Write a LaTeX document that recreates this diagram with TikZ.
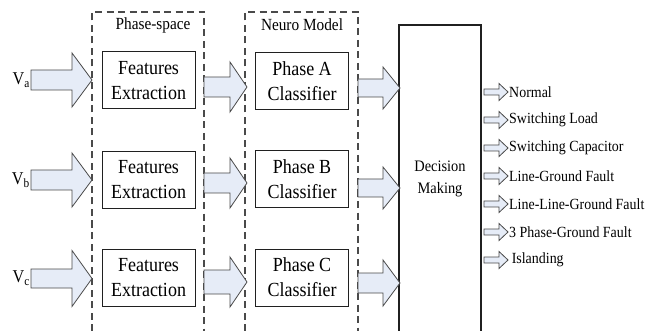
\documentclass[tikz,border=0pt]{standalone}
\usepackage{fontspec}
\setmainfont{Liberation Serif}[FakeStretch=0.9]
\usetikzlibrary{positioning}
\definecolor{arrfill}{HTML}{E6ECF7}
\definecolor{arrline}{HTML}{4A4A4A}
\definecolor{boxline}{HTML}{202020}
\newcommand{\blkarrow}[6]{% tail x, head base x, tip x, centre y, shaft half, head half
  \draw[blockarr] (#1,#4-#5) -- (#2,#4-#5) -- (#2,#4-#6) -- (#3,#4) -- (#2,#4+#6) -- (#2,#4+#5) -- (#1,#4+#5) -- cycle;}
\begin{document}
\begin{tikzpicture}[x=1pt,y=-1pt,
  procbox/.style={draw=boxline,line width=1pt,minimum width=93pt,minimum height=57pt,inner sep=0pt,
    align=center,font=\fontsize{20}{25}\selectfont},
  dashbox/.style={draw=arrline,line width=1.1pt,dash pattern=on 7pt off 4.5pt},
  blockarr/.style={draw=arrline,fill=arrfill,line width=0.8pt,line join=miter},
  outlbl/.style={anchor=west,inner sep=0pt,font=\fontsize{15.5}{16}\selectfont},
  vlbl/.style={anchor=east,inner sep=1pt,font=\fontsize{18}{18}\selectfont},
  grouplbl/.style={font=\fontsize{17}{17}\selectfont,inner sep=0pt}]
\useasboundingbox (0,0) rectangle (661,331);
% dashed groups
\coordinate (psTL) at (92,12); \coordinate (psTR) at (204,12);
\coordinate (psBL) at (92,331); \coordinate (psBR) at (204,331);
\coordinate (nmTL) at (245,12); \coordinate (nmTR) at (358,12);
\coordinate (nmBL) at (245,331); \coordinate (nmBR) at (358,331);
\draw[dashbox] (psBL) -- (psTL) -- (psTR) -- (psBR);
\draw[dashbox] (nmBL) -- (nmTL) -- (nmTR) -- (nmBR);
\node[grouplbl] (pslbl) at (153,25) {Phase-space};
\node[grouplbl] (nmlbl) at (302,25) {Neuro Model};
% decision box (open at bottom)
\coordinate (dmTL) at (399,25); \coordinate (dmTR) at (481,25);
\coordinate (dmBL) at (399,331); \coordinate (dmBR) at (481,331);
\draw[draw=boxline,line width=1.3pt] (dmBL) -- (dmTL) -- (dmTR) -- (dmBR);
\node[align=center,font=\fontsize{16}{22}\selectfont] (dm) at (440,179) {Decision\\Making};
% feature boxes
\node[procbox] (fa) at (148.5,80.5) {Features\\Extraction};
\node[procbox] (fb) at (148.5,180) {Features\\Extraction};
\node[procbox] (fc) at (148.5,278) {Features\\Extraction};
% classifiers
\node[procbox] (ca) at (302,81) {Phase A\\Classifier};
\node[procbox] (cb) at (302,179.5) {Phase B\\Classifier};
\node[procbox] (cc) at (302,277.5) {Phase C\\Classifier};
% input labels
\node[vlbl] (va) at (31,80) {V\textsubscript{a}};
\node[vlbl] (vb) at (31,180) {V\textsubscript{b}};
\node[vlbl] (vc) at (31,278) {V\textsubscript{c}};
% input arrows
\blkarrow{31}{72}{92}{80}{10}{27}
\blkarrow{31}{72}{92}{180}{10}{27}
\blkarrow{31}{72}{92}{278.5}{9.5}{28}
% middle arrows
\blkarrow{204}{230}{247}{87}{10}{25}
\blkarrow{204}{230}{247}{183}{10}{25}
\blkarrow{204}{230}{247}{282}{12}{25}
% right arrows
\blkarrow{358}{383}{400}{88}{9}{21}
\blkarrow{358}{383}{400}{188}{9}{21}
\blkarrow{358}{383}{400}{283}{10}{23}
% outputs
\foreach \yy/\txt [count=\i] in {92/Normal,120/Switching Load,148/Switching Capacitor,176/Line-Ground Fault,204/Line-Line-Ground Fault,232/3 Phase-Ground Fault,260/{\,Islanding}}{
  \blkarrow{484}{499}{508}{\yy}{3}{8.5}
  \node[outlbl] (out\i) at (509,\yy) {\txt};
}
\end{tikzpicture}
\end{document}
